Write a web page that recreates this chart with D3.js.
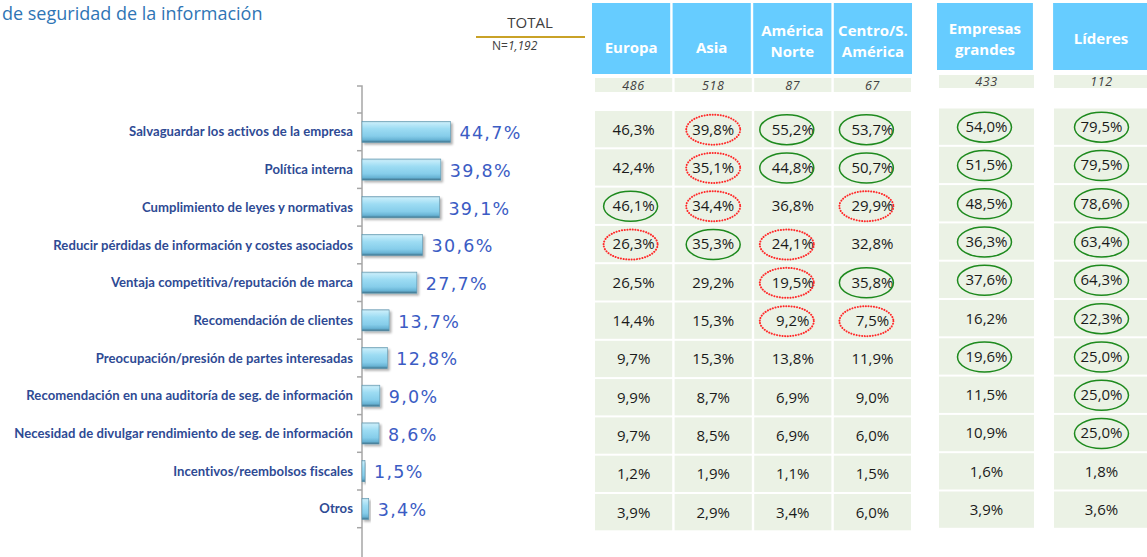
<!DOCTYPE html>
<html><head><meta charset="utf-8">
<script src="https://cdn.jsdelivr.net/npm/d3@7"></script>
<style>body{margin:0;background:#fff;} svg{display:block;}</style>
</head><body>
<svg id="chart" width="1147" height="557"></svg>
<script>
const categories = [
  "Salvaguardar los activos de la empresa",
  "Política interna",
  "Cumplimiento de leyes y normativas",
  "Reducir pérdidas de información y costes asociados",
  "Ventaja competitiva/reputación de marca",
  "Recomendación de clientes",
  "Preocupación/presión de partes interesadas",
  "Recomendación en una auditoría de seg. de información",
  "Necesidad de divulgar rendimiento de seg. de información",
  "Incentivos/reembolsos fiscales",
  "Otros"
];
const totalValues = [44.7, 39.8, 39.1, 30.6, 27.7, 13.7, 12.8, 9.0, 8.6, 1.5, 3.4];
const totalN = 1192;
const regions = ["Europa", "Asia", "América Norte", "Centro/S. América"];
const regionHeaderLines = [["Europa"], ["Asia"], ["América", "Norte"], ["Centro/S.", "América"]];
const regionN = [486, 518, 87, 67];
const europa = [46.3, 42.4, 46.1, 26.3, 26.5, 14.4, 9.7, 9.9, 9.7, 1.2, 3.9];
const asia = [39.8, 35.1, 34.4, 35.3, 29.2, 15.3, 15.3, 8.7, 8.5, 1.9, 2.9];
const americaNorte = [55.2, 44.8, 36.8, 24.1, 19.5, 9.2, 13.8, 6.9, 6.9, 1.1, 3.4];
const centroSurAmerica = [53.7, 50.7, 29.9, 32.8, 35.8, 7.5, 11.9, 9.0, 6.0, 1.5, 6.0];
const segments = ["Empresas grandes", "Líderes"];
const segmentHeaderLines = [["Empresas", "grandes"], ["Líderes"]];
const segmentN = [433, 112];
const empresasGrandes = [54.0, 51.5, 48.5, 36.3, 37.6, 16.2, 19.6, 11.5, 10.9, 1.6, 3.9];
const lideres = [79.5, 79.5, 78.6, 63.4, 64.3, 22.3, 25.0, 25.0, 25.0, 1.8, 3.6];
// "g" = green solid circle (higher), "r" = red dotted circle (lower)
const europaMarks = ["", "", "g", "r", "", "", "", "", "", "", ""];
const asiaMarks = ["r", "r", "r", "g", "", "", "", "", "", "", ""];
const americaNorteMarks = ["g", "g", "", "r", "r", "r", "", "", "", "", ""];
const centroSurAmericaMarks = ["g", "g", "r", "", "g", "r", "", "", "", "", ""];
const empresasGrandesMarks = ["g", "g", "g", "g", "g", "", "g", "", "", "", ""];
const lideresMarks = ["g", "g", "g", "g", "g", "g", "g", "g", "g", "", ""];

const locale = d3.formatLocale({decimal: ",", thousands: ".", grouping: [3], currency: ["", "€"]});
const pct = v => locale.format(".1f")(v) + "%";

const svg = d3.select("#chart");
const defs = svg.append("defs");
const grad = defs.append("linearGradient").attr("id", "barGrad")
  .attr("x1", 0).attr("y1", 0).attr("x2", 0).attr("y2", 1);
[[0, "#a9ccd9"], [0.08, "#c4ecfa"], [0.35, "#9ddcf3"], [0.7, "#86cdea"], [0.88, "#68b3d4"], [1, "#3d6f87"]]
  .forEach(([o, c]) => grad.append("stop").attr("offset", o).attr("stop-color", c));
const sh = defs.append("filter").attr("id", "shadow")
  .attr("x", "-10%").attr("y", "-30%").attr("width", "130%").attr("height", "180%");
sh.append("feDropShadow").attr("dx", 2).attr("dy", 2).attr("stdDeviation", 1.2)
  .attr("flood-color", "#000").attr("flood-opacity", 0.3);

// Title
svg.append("text").attr("x", 2).attr("y", 20)
  .attr("font-family", "'Open Sans', sans-serif").attr("font-size", 18)
  .attr("fill", "#2f75b5").text("de seguridad de la información");

// TOTAL header
svg.append("text").attr("x", 530).attr("y", 28).attr("text-anchor", "middle")
  .attr("font-family", "'Open Sans', sans-serif").attr("font-size", 15)
  .attr("fill", "#404040").text("TOTAL");
svg.append("line").attr("x1", 476).attr("x2", 585).attr("y1", 37).attr("y2", 37)
  .attr("stroke", "#c9a227").attr("stroke-width", 2);
const nText = svg.append("text").attr("x", 492).attr("y", 50)
  .attr("font-family", "'Open Sans', sans-serif").attr("font-size", 12).attr("fill", "#404040");
nText.append("tspan").text("N=");
nText.append("tspan").attr("font-style", "italic").text(d3.format(",")(totalN));

// Bar chart
const xBar = d3.scaleLinear().domain([0, 100]).range([362, 560]);
const yAxisBand = d3.scaleBand().domain(categories).range([113, 527.7]);
const yBar = d3.scaleBand().domain(categories).range([113, 527.7]).paddingInner(0.44).paddingOuter(0.22);
const x0 = xBar(0);

const ax = svg.append("g");
ax.append("path").attr("d", `M${x0 - 5},86H${x0}V562`)
  .attr("fill", "none").attr("stroke", "#a6a6a6").attr("stroke-width", 1.5);
ax.selectAll("line.tick").data(categories.map(c => yAxisBand(c)).concat([yAxisBand.range()[1]]))
  .join("line").attr("class", "tick")
  .attr("x1", x0 - 5).attr("x2", x0).attr("y1", d => d).attr("y2", d => d)
  .attr("stroke", "#a6a6a6").attr("stroke-width", 1.5);

svg.append("g").selectAll("text").data(categories).join("text")
  .attr("x", x0 - 9).attr("y", d => yAxisBand(d) + yAxisBand.bandwidth() / 2)
  .attr("dy", "0.35em").attr("text-anchor", "end")
  .attr("font-family", "Lato, sans-serif").attr("font-weight", 700).attr("font-size", 13.1)
  .attr("letter-spacing", 0.05).attr("fill", "#2e4a94").text(d => d);

const barData = categories.map((c, i) => ({c, v: totalValues[i]}));
svg.append("g").selectAll("rect").data(barData).join("rect")
  .attr("x", x0).attr("y", d => yBar(d.c))
  .attr("width", d => xBar(d.v) - x0).attr("height", yBar.bandwidth())
  .attr("fill", "url(#barGrad)").attr("stroke", "#5b94ad").attr("stroke-width", 0.6)
  .attr("filter", "url(#shadow)");
svg.append("g").selectAll("text").data(barData).join("text")
  .attr("x", d => xBar(d.v) + 9).attr("y", d => yBar(d.c) + yBar.bandwidth() / 2 + 1)
  .attr("dy", "0.36em")
  .attr("font-family", "'DejaVu Sans', sans-serif").attr("font-size", 17.5)
  .attr("letter-spacing", 1.3).attr("fill", "#3b5cc4").text(d => pct(d.v));

// Tables
const cellFill = "#EBF2E5";
const headFill = "#66CCFF";
function drawTable(cols, headerLines, nValues, values, marks, opts) {
  const g = svg.append("g");
  const xHead = d3.scaleBand().domain(cols).range(opts.headRange).paddingInner(opts.pad);
  const xCell = d3.scaleBand().domain(cols).range(opts.cellRange).paddingInner(opts.pad);
  const yRow = d3.scaleBand().domain(categories).range(opts.rowRange).paddingInner(0.052);
  g.selectAll("rect.head").data(cols).join("rect").attr("class", "head")
    .attr("x", d => xHead(d)).attr("y", opts.headTop)
    .attr("width", xHead.bandwidth()).attr("height", opts.headBottom - opts.headTop)
    .attr("fill", headFill);
  cols.forEach((c, i) => {
    const lines = headerLines[i];
    const ys = lines.length === 1 ? [opts.single] : opts.double;
    lines.forEach((t, j) => {
      g.append("text").attr("x", xHead(c) + xHead.bandwidth() / 2).attr("y", ys[j])
        .attr("dy", "0.35em").attr("text-anchor", "middle")
        .attr("font-family", "'Open Sans', sans-serif").attr("font-weight", 700)
        .attr("font-size", 15).attr("fill", "#fff").text(t);
    });
  });
  g.selectAll("rect.n").data(cols).join("rect").attr("class", "n")
    .attr("x", d => xCell(d)).attr("y", opts.nTop).attr("width", xCell.bandwidth())
    .attr("height", opts.nH).attr("fill", cellFill);
  g.selectAll("text.n").data(cols).join("text").attr("class", "n")
    .attr("x", d => xCell(d) + xCell.bandwidth() / 2).attr("y", opts.nTop + opts.nH / 2)
    .attr("dy", "0.36em").attr("text-anchor", "middle")
    .attr("font-family", "'Open Sans', sans-serif").attr("font-style", "italic")
    .attr("font-size", 12.5).attr("letter-spacing", 0.6).attr("fill", "#404040")
    .text((d, i) => nValues[i]);
  cols.forEach((c, ci) => {
    const data = categories.map((cat, ri) => ({cat, v: values[ci][ri], m: marks[ci][ri]}));
    const cx = xCell(c) + xCell.bandwidth() / 2;
    g.append("g").selectAll("rect").data(data).join("rect")
      .attr("x", xCell(c)).attr("y", d => yRow(d.cat))
      .attr("width", xCell.bandwidth()).attr("height", yRow.bandwidth()).attr("fill", cellFill);
    g.append("g").selectAll("text").data(data).join("text")
      .attr("x", cx).attr("y", d => yRow(d.cat) + yRow.bandwidth() / 2)
      .attr("dy", "0.36em").attr("text-anchor", "middle")
      .attr("font-family", "'Open Sans', sans-serif").attr("font-size", 15)
      .attr("fill", "#1a1a1a").text(d => pct(d.v));
    g.append("g").selectAll("ellipse").data(data.filter(d => d.m)).join("ellipse")
      .attr("cx", cx + opts.shift[ci]).attr("cy", d => yRow(d.cat) + yRow.bandwidth() / 2 + 0.5)
      .attr("rx", 27).attr("ry", 15).attr("fill", "none")
      .attr("stroke", d => d.m === "g" ? "#1e8a1e" : "#ff2a2a")
      .attr("stroke-width", d => d.m === "g" ? 1.5 : 2)
      .attr("stroke-dasharray", d => d.m === "g" ? null : "0.1 2.6")
      .attr("stroke-linecap", "round");
  });
}

drawTable(regions, regionHeaderLines, regionN,
  [europa, asia, americaNorte, centroSurAmerica],
  [europaMarks, asiaMarks, americaNorteMarks, centroSurAmericaMarks],
  {headRange: [592, 912], cellRange: [595, 911], pad: 0.03, headTop: 3, headBottom: 74,
   single: 48, double: [31, 52], nTop: 78, nH: 14, rowRange: [111, 530.3], shift: [-3, 0, -6, -6]});

drawTable(segments, segmentHeaderLines, segmentN,
  [empresasGrandes, lideres],
  [empresasGrandesMarks, lideresMarks],
  {headRange: [937, 1149], cellRange: [939, 1149], pad: 0.1739, headTop: 3, headBottom: 70,
   single: 39, double: [29, 50], nTop: 75, nH: 13, rowRange: [108.5, 527.8], shift: [-2, 0]});
</script>
</body></html>
